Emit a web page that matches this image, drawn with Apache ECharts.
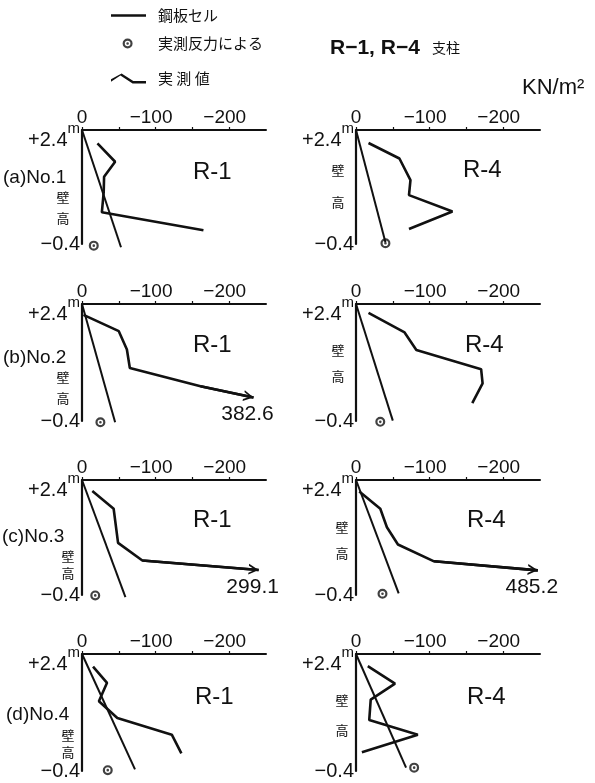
<!DOCTYPE html>
<html>
<head>
<meta charset="utf-8">
<title>R-1, R-4 支柱</title>
<script src="https://cdn.jsdelivr.net/npm/echarts@6/dist/echarts.min.js"></script>
<style>
  body { margin: 0; background: #fff; }
  #main { width: 595px; height: 783px; }
</style>
</head>
<body>
<div id="main"></div>
<script>
// 軸
var xTickValues = [0, -50, -100, -150, -200];
var xLabelValues = [0, -100, -200];
var yLabelValues = [-0.4, 2.4];
var rowNames = ['(a)No.1', '(b)No.2', '(c)No.3', '(d)No.4'];
var supportNames = ['R-1', 'R-4'];

// 鋼板セル (直線)
var steelA1 = [[0, 2.4], [-53, -0.48]];
var steelA4 = [[0, 2.4], [-40, -0.36]];
var steelB1 = [[0, 2.4], [-45, -0.43]];
var steelB4 = [[0, 2.4], [-50, -0.39]];
var steelC1 = [[0, 2.4], [-59, -0.45]];
var steelC4 = [[0, 2.4], [-58, -0.36]];
var steelD1 = [[0, 2.4], [-72, -0.36]];
var steelD4 = [[0, 2.4], [-68, -0.32]];

// 実測値
var measA1 = [[-21, 2.07], [-45, 1.62], [-30, 1.25], [-29.5, 0.88], [-27, 0.38], [-165, -0.06]];
var measA4 = [[-17, 2.08], [-59, 1.70], [-74, 1.17], [-72, 0.80], [-131, 0.40], [-72, -0.03]];
var measB1 = [[-2, 2.14], [-50, 1.75], [-61, 1.31], [-65, 0.87], [-161, 0.43], [-233, 0.16]];
var measB4 = [[-17, 2.19], [-66, 1.72], [-82, 1.30], [-170, 0.84], [-172, 0.50], [-158, 0.03]];
var measC1 = [[-14, 2.13], [-43, 1.70], [-49, 0.87], [-82, 0.44], [-240, 0.21]];
var measC4 = [[-4.5, 2.12], [-33, 1.70], [-42, 1.25], [-57, 0.83], [-106, 0.42], [-247, 0.20]];
var measD1 = [[-15, 2.10], [-34, 1.71], [-23, 1.27], [-48, 0.87], [-122, 0.47], [-135, 0.02]];
var measD4 = [[-16, 2.11], [-53, 1.69], [-20, 1.31], [-18, 0.82], [-84, 0.47], [-8, 0.05]];

// 実測反力による
var reactA1 = [[-16, -0.44]];
var reactA4 = [[-40, -0.38]];
var reactB1 = [[-25, -0.43]];
var reactB4 = [[-33, -0.42]];
var reactC1 = [[-18, -0.41]];
var reactC4 = [[-36, -0.37]];
var reactD1 = [[-35, -0.38]];
var reactD4 = [[-79, -0.32]];

// 枠外の値 (矢印)
var overValues = [null, null, 382.6, null, 299.1, 485.2, null, null];

var panels = [
    {steel: steelA1, meas: measA1, react: reactA1},
    {steel: steelA4, meas: measA4, react: reactA4},
    {steel: steelB1, meas: measB1, react: reactB1},
    {steel: steelB4, meas: measB4, react: reactB4},
    {steel: steelC1, meas: measC1, react: reactC1},
    {steel: steelC4, meas: measC4, react: reactC4},
    {steel: steelD1, meas: measD1, react: reactD1},
    {steel: steelD4, meas: measD4, react: reactD4}
];

// レイアウト
var gridLefts = [82, 356];
var gridTops = [130, 304, 480, 654];
var gridHeights = [114, 117, 115, 117];
var gridWidth = 184;
var rowLabelPos = [[3, 178], [3, 358], [2, 537], [6, 715]];
var wallLeft = [[63, 197, 218], [63, 377, 398], [68, 556, 573], [68, 735, 752]];
var wallRight = [[338, 170, 202], [338, 350, 376], [342, 527, 553], [342, 700, 730]];
var supportPos = [
    [[193, 172], [463, 170]],
    [[193, 345], [465, 345]],
    [[193, 520], [467, 520]],
    [[195, 697], [467, 697]]
];

var FONT = '"Liberation Sans", Arial, sans-serif';
var JP = '"Noto Sans CJK JP", sans-serif';
var INK = '#111';

var ringSymbol = 'path://M0,5 a5,5 0 1,0 10,0 a5,5 0 1,0 -10,0 Z M2.2,5 a2.8,2.8 0 1,1 5.6,0 a2.8,2.8 0 1,1 -5.6,0 Z M3.7,5 a1.3,1.3 0 1,0 2.6,0 a1.3,1.3 0 1,0 -2.6,0 Z';
var arrowSymbol = 'path://M0,0 M0,20 L5,10 L10,20 L8.2,20 L5,13.6 L1.8,20 Z';
var steelIcon = 'path://M0,0 M42,14 M0,5.8 L35,5.8 L35,8.2 L0,8.2 Z';
var ringIcon = 'path://M0,0 M42,14 M11.6,7 a5,5 0 1,0 10,0 a5,5 0 1,0 -10,0 Z M13.8,7 a2.8,2.8 0 1,1 5.6,0 a2.8,2.8 0 1,1 -5.6,0 Z M15.3,7 a1.3,1.3 0 1,0 2.6,0 a1.3,1.3 0 1,0 -2.6,0 Z';
var zigIcon = 'path://M0,0 M42,14 M0,7.8 L10.6,1.9 L22.3,9.5 L35,9.5 L35,11.9 L21.6,11.9 L9.4,4.1 L0,10.2 Z';

var grids = [], xAxes = [], yAxes = [], series = [], graphics = [];

panels.forEach(function (p, i) {
    var row = Math.floor(i / 2), col = i % 2;
    grids.push({left: gridLefts[col], top: gridTops[row], width: gridWidth, height: gridHeights[row]});
    xAxes.push({
        type: 'value', gridIndex: i, position: 'top', inverse: true,
        min: -250, max: 0, interval: 50,
        axisLine: {onZero: false, lineStyle: {color: INK, width: 2}},
        axisTick: {customValues: xTickValues, length: 3, lineStyle: {color: INK, width: 1.2}},
        axisLabel: {
            customValues: xLabelValues, margin: 3, color: INK,
            formatter: function (v) {
                if (v % 100 !== 0) return '';
                return v === 0 ? '{z|0}' : '{n|−' + Math.abs(v) + '}';
            },
            rich: {
                z: {fontSize: 19, fontFamily: FONT, color: INK},
                n: {fontSize: 19, fontFamily: FONT, color: INK, padding: [0, 9, 0, 0]}
            }
        },
        splitLine: {show: false}
    });
    yAxes.push({
        type: 'value', gridIndex: i, min: -0.4, max: 2.4, interval: 0.4,
        axisLine: {show: true, onZero: false, lineStyle: {color: INK, width: 2.2}},
        axisTick: {show: false},
        axisLabel: {
            customValues: yLabelValues, margin: 2, color: INK,
            formatter: function (v) {
                if (Math.abs(v - 2.4) < 1e-6) return '{p|+' + v.toFixed(1) + '}{m|m}';
                if (Math.abs(v + 0.4) < 1e-6) return '{q|−' + Math.abs(v).toFixed(1) + '}';
                return '';
            },
            rich: {
                p: {fontSize: 20, fontFamily: FONT, color: INK, padding: [20, 0, 0, 0]},
                m: {fontSize: 15, fontFamily: FONT, color: INK, padding: [0, 0, 2, 0]},
                q: {fontSize: 20, fontFamily: FONT, color: INK}
            }
        },
        splitLine: {show: false}
    });

    series.push({
        name: '鋼板セル', type: 'line', xAxisIndex: i, yAxisIndex: i,
        data: p.steel, symbol: 'none', clip: false, silent: true,
        lineStyle: {color: INK, width: 2}, itemStyle: {color: INK}
    });

    var meas = {
        name: '実測値', type: 'line', xAxisIndex: i, yAxisIndex: i,
        data: p.meas, symbol: 'none', clip: false, silent: true,
        lineStyle: {color: INK, width: 2.6}, itemStyle: {color: INK}
    };
    if (overValues[i] != null) {
        var n = p.meas.length;
        meas.markLine = {
            silent: true, symbol: ['none', arrowSymbol], symbolSize: [11, 20],
            label: {show: false}, lineStyle: {color: INK, width: 2.6, type: 'solid'},
            data: [[{coord: p.meas[n - 2]}, {coord: p.meas[n - 1]}]]
        };
        meas.markPoint = {
            silent: true, symbol: 'circle', symbolSize: 1,
            itemStyle: {color: 'rgba(0,0,0,0)'},
            label: {show: true, position: 'inside', offset: [-6, 17], formatter: String(overValues[i]),
                fontSize: 21, fontFamily: FONT, color: INK},
            data: [{coord: p.meas[n - 1]}]
        };
    }
    series.push(meas);

    series.push({
        name: '実測反力による', type: 'scatter', xAxisIndex: i, yAxisIndex: i,
        data: p.react, symbol: ringSymbol, symbolSize: 10, clip: false, silent: true,
        itemStyle: {color: INK}
    });

    // 支柱名
    var sp = supportPos[row][col];
    graphics.push({type: 'text', x: sp[0], y: sp[1],
        style: {text: supportNames[col], font: '24px ' + FONT, fill: INK, align: 'left', verticalAlign: 'middle'}});
    // 壁高
    var w = col === 0 ? wallLeft[row] : wallRight[row];
    graphics.push({type: 'text', x: w[0], y: w[1],
        style: {text: '壁', font: '13px ' + JP, fill: INK, align: 'center', verticalAlign: 'middle'}});
    graphics.push({type: 'text', x: w[0], y: w[2],
        style: {text: '高', font: '13px ' + JP, fill: INK, align: 'center', verticalAlign: 'middle'}});
});

rowNames.forEach(function (name, r) {
    graphics.push({type: 'text', x: rowLabelPos[r][0], y: rowLabelPos[r][1],
        style: {text: name, font: '19px ' + FONT, fill: INK, align: 'left', verticalAlign: 'middle'}});
});

graphics.push({type: 'text', x: 330, y: 48,
    style: {text: 'R−1, R−4', font: 'bold 21px ' + FONT, fill: INK, align: 'left', verticalAlign: 'middle'}});
graphics.push({type: 'text', x: 432, y: 48,
    style: {text: '支柱', font: '14px ' + JP, fill: INK, align: 'left', verticalAlign: 'middle'}});
graphics.push({type: 'text', x: 522, y: 88,
    style: {text: 'KN/m²', font: '22px ' + FONT, fill: INK, align: 'left', verticalAlign: 'middle'}});

function makeLegend(name, icon, top) {
    return {
        data: [{name: name, icon: icon}],
        orient: 'vertical', left: 111, top: top, padding: 0,
        itemWidth: 42, itemHeight: 14, selectedMode: false,
        itemStyle: {color: INK, borderWidth: 0},
        textStyle: {fontSize: 15, fontFamily: JP, color: INK},
        formatter: function (n) { return n === '実測値' ? '実 測 値' : n; }
    };
}

var chart = echarts.init(document.getElementById('main'), null, {renderer: 'canvas'});
chart.setOption({
    animation: false,
    backgroundColor: '#fff',
    textStyle: {fontFamily: FONT},
    legend: [
        makeLegend('鋼板セル', steelIcon, 8),
        makeLegend('実測反力による', ringIcon, 36),
        makeLegend('実測値', zigIcon, 71)
    ],
    grid: grids,
    xAxis: xAxes,
    yAxis: yAxes,
    series: series,
    graphic: graphics
});
</script>
</body>
</html>
